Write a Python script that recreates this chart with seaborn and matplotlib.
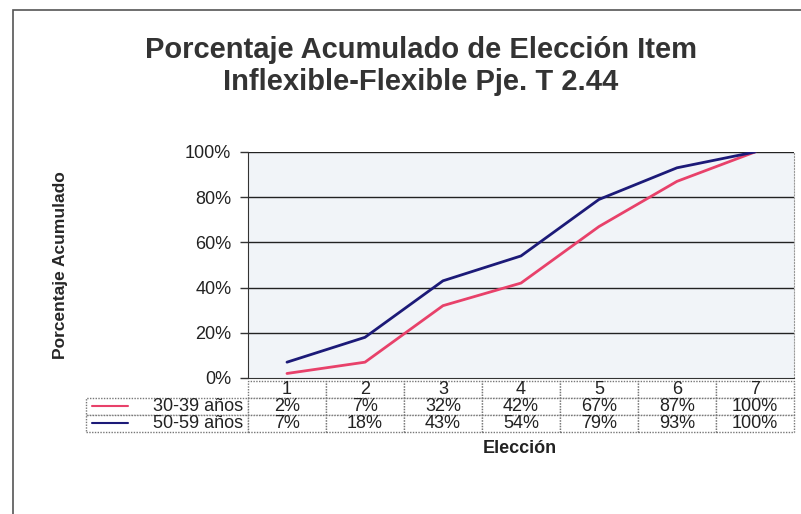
import seaborn as sns
import pandas as pd
import matplotlib.pyplot as plt
from matplotlib.lines import Line2D
from matplotlib.patches import Rectangle
from matplotlib.ticker import PercentFormatter

elecciones = ['1', '2', '3', '4', '5', '6', '7']
grupos = ['30-39 años', '50-59 años']
pct_30_39 = [2, 7, 32, 42, 67, 87, 100]
pct_50_59 = [7, 18, 43, 54, 79, 93, 100]
colores = {'30-39 años': '#e8416a', '50-59 años': '#1c1a78'}

df = pd.DataFrame({
    'eleccion': elecciones * 2,
    'pos': list(range(len(elecciones))) * 2,
    'valor': pct_30_39 + pct_50_59,
    'grupo': [grupos[0]] * len(elecciones) + [grupos[1]] * len(elecciones),
})

sns.set_style('white')
plt.rcParams['font.family'] = ['Liberation Sans', 'DejaVu Sans']

fig = plt.figure(figsize=(8.01, 5.14), dpi=100)
ax = fig.add_axes([0.3096, 0.2646, 0.6816, 0.4397])
ax.set_facecolor('#f1f4f8')

sns.lineplot(data=df, x='pos', y='valor', hue='grupo', palette=colores,
             linewidth=2, legend=False, ax=ax)

ax.set_xlim(-0.5, len(elecciones) - 0.5)
ax.set_ylim(0, 100)
ax.set_yticks(range(0, 101, 20))
ax.yaxis.set_major_formatter(PercentFormatter(decimals=0))
ax.set_xticks([])
ax.set_xlabel('')
ax.set_ylabel('Porcentaje Acumulado', fontsize=12.5, fontweight='bold')
ax.yaxis.set_label_coords(-0.33, 0.5)
ax.tick_params(axis='y', left=True, length=6, width=1, color='#333333',
               labelsize=13, pad=6, labelcolor='#222222')
for g in range(20, 101, 20):
    ax.axhline(g, color='#222222', lw=1, zorder=1)
ax.spines['left'].set_color('#333333')
ax.spines['bottom'].set_color('#333333')
ax.spines['top'].set_visible(False)
ax.spines['right'].set_color('#999999')
ax.spines['right'].set_linestyle(':')

# data table below the plot
filas = [[''] + [f'{v}%' for v in pct_30_39],
         [''] + [f'{v}%' for v in pct_50_59]]
tabla = ax.table(cellText=filas, colLabels=[''] + elecciones,
                 colWidths=[162] + [78] * len(elecciones),
                 cellLoc='center', bbox=[-0.2967, -0.239, 1.2967, 0.2257])
tabla.auto_set_font_size(False)
for (r, c), cell in tabla.get_celld().items():
    cell.set_edgecolor('#777777')
    cell.set_linestyle((0, (1, 1)))
    cell.set_facecolor('white')
    cell.get_text().set_fontsize(13)
    cell.get_text().set_color('#222222')
    if r == 0 and c == 0:
        cell.visible_edges = ''
for i, g in enumerate(grupos):
    cell = tabla[i + 1, 0]
    cell.get_text().set_text(g)
    cell.get_text().set_horizontalalignment('right')
    cell._loc = 'right'
    cell.PAD = 0.03

# legend keys inside the row label cells
for i, g in enumerate(grupos):
    y = -0.126 - i * 0.075
    ax.add_line(Line2D([-0.2857, -0.2198], [y, y], color=colores[g], lw=1.5,
                       transform=ax.transAxes, clip_on=False))

fig.text(0.6492, 0.128, 'Elección', ha='center', va='center',
         fontsize=13, fontweight='bold', color='#222222')

fig.text(0.5256, 0.902, 'Porcentaje Acumulado de Elección Item',
         ha='center', va='center', fontsize=21, fontweight='bold', color='#333333')
fig.text(0.5256, 0.84, 'Inflexible-Flexible Pje. T 2.44',
         ha='center', va='center', fontsize=21, fontweight='bold', color='#333333')

fig.patches.append(Rectangle((13 / 801, -0.1), 1.2, 1.1 - 10 / 514,
                             transform=fig.transFigure, fill=False,
                             edgecolor='#555555', lw=1.2))

fig.savefig('out.png', dpi=100)
